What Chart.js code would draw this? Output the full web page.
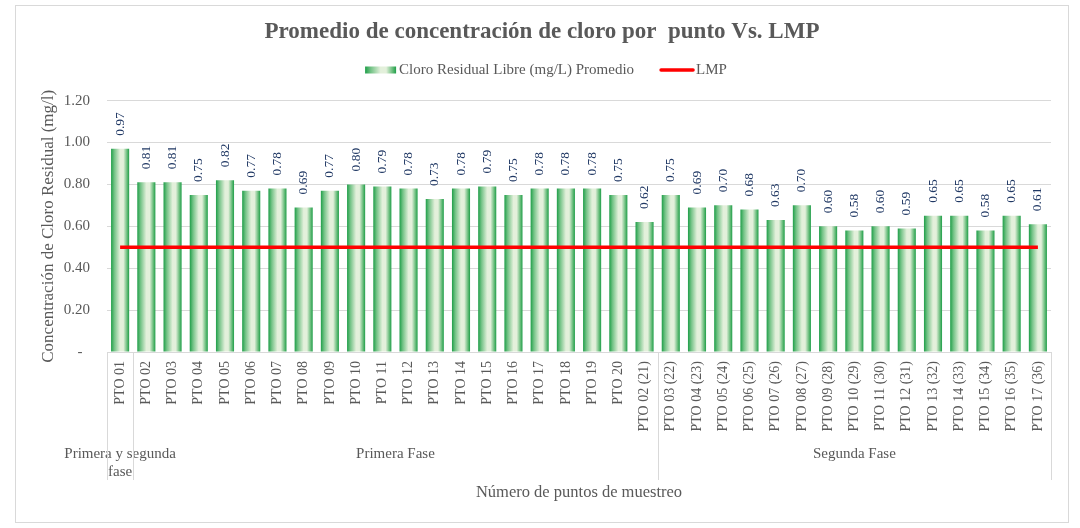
<!DOCTYPE html>
<html lang="es">
<head>
<meta charset="utf-8">
<title>Promedio de concentración de cloro por punto Vs. LMP</title>
<script src="https://cdn.jsdelivr.net/npm/chart.js@4.4.1/dist/chart.umd.min.js"></script>
<style>
    body { margin: 0; background: #fff; }
    #marco {
        position: absolute;
        left: 15px;
        top: 5px;
        width: 1052px;
        height: 516px;
        border: 1px solid #D9D9D9;
    }
    canvas { display: block; }
</style>
</head>
<body>
<div id="marco">
    <canvas id="cloroChart" width="1052" height="516"></canvas>
</div>
<script>
// Puntos de muestreo
const puntos = [
    "PTO 01",
    "PTO 02", "PTO 03", "PTO 04", "PTO 05", "PTO 06", "PTO 07", "PTO 08", "PTO 09", "PTO 10",
    "PTO 11", "PTO 12", "PTO 13", "PTO 14", "PTO 15", "PTO 16", "PTO 17", "PTO 18", "PTO 19", "PTO 20",
    "PTO 02 (21)", "PTO 03 (22)", "PTO 04 (23)", "PTO 05 (24)", "PTO 06 (25)", "PTO 07 (26)",
    "PTO 08 (27)", "PTO 09 (28)", "PTO 10 (29)", "PTO 11 (30)", "PTO 12 (31)", "PTO 13 (32)",
    "PTO 14 (33)", "PTO 15 (34)", "PTO 16 (35)", "PTO 17 (36)"
];

// Cloro residual libre promedio (mg/L)
const cloroPromedio = [
    0.97,
    0.81, 0.81, 0.75, 0.82, 0.77, 0.78, 0.69, 0.77, 0.80,
    0.79, 0.78, 0.73, 0.78, 0.79, 0.75, 0.78, 0.78, 0.78, 0.75,
    0.62, 0.75, 0.69, 0.70, 0.68, 0.63,
    0.70, 0.60, 0.58, 0.60, 0.59, 0.65,
    0.65, 0.58, 0.65, 0.61
];

// Limite maximo permisible
const lmp = [
    0.50,
    0.50, 0.50, 0.50, 0.50, 0.50, 0.50, 0.50, 0.50, 0.50,
    0.50, 0.50, 0.50, 0.50, 0.50, 0.50, 0.50, 0.50, 0.50, 0.50,
    0.50, 0.50, 0.50, 0.50, 0.50, 0.50,
    0.50, 0.50, 0.50, 0.50, 0.50, 0.50,
    0.50, 0.50, 0.50, 0.50
];

// Fases (lineas de texto) y cuantos puntos abarca cada una
const fases = [["Primera y segunda", "fase"], ["Primera Fase"], ["Segunda Fase"]];
const puntosPorFase = [1, 20, 15];

const serie1 = "Cloro Residual Libre (mg/L) Promedio";
const serie2 = "LMP";

const FONT = "'Liberation Serif', 'Times New Roman', serif";
const GRIS = "#595959";
const LINEA = "#D9D9D9";

function verdeDegradado(ctx, left, width) {
    const g = ctx.createLinearGradient(left, 0, left + width, 0);
    g.addColorStop(0, "#1E9E48");
    g.addColorStop(0.18, "#72C285");
    g.addColorStop(0.5, "#E3F0DB");
    g.addColorStop(0.68, "#E3F0DB");
    g.addColorStop(0.9, "#5DB873");
    g.addColorStop(1, "#1E9E48");
    return g;
}

// Relleno con degradado horizontal para cada barra
const barrasDegradado = {
    id: "barrasDegradado",
    beforeDatasetsDraw(chart) {
        const ctx = chart.ctx;
        chart.getDatasetMeta(0).data.forEach(bar => {
            bar.options.backgroundColor = verdeDegradado(ctx, bar.x - bar.width / 2, bar.width);
        });
    }
};

// Valores rotados encima de cada barra
const etiquetasValor = {
    id: "etiquetasValor",
    afterDatasetsDraw(chart) {
        const ctx = chart.ctx;
        const meta = chart.getDatasetMeta(0);
        ctx.save();
        ctx.font = `13.5px ${FONT}`;
        ctx.fillStyle = "#203864";
        ctx.textAlign = "left";
        ctx.textBaseline = "middle";
        meta.data.forEach((bar, i) => {
            ctx.save();
            ctx.translate(bar.x, bar.y - 13);
            ctx.rotate(-Math.PI / 2);
            ctx.fillText(cloroPromedio[i].toFixed(2), 0, 0);
            ctx.restore();
        });
        ctx.restore();
    }
};

// Separadores y nombres de las fases debajo del eje X
const etiquetasFase = {
    id: "etiquetasFase",
    afterDraw(chart) {
        const ctx = chart.ctx;
        const x = chart.scales.x;
        const paso = x.getPixelForValue(1) - x.getPixelForValue(0);
        const top = chart.chartArea.bottom;
        const bottom = 474;
        ctx.save();
        ctx.strokeStyle = LINEA;
        ctx.lineWidth = 1;
        ctx.font = `15px ${FONT}`;
        ctx.fillStyle = GRIS;
        ctx.textAlign = "center";
        ctx.textBaseline = "middle";
        let inicio = 0;
        const bordes = [x.getPixelForValue(0) - paso / 2];
        fases.forEach((lineas, k) => {
            const fin = inicio + puntosPorFase[k] - 1;
            const izq = x.getPixelForValue(inicio) - paso / 2;
            const der = x.getPixelForValue(fin) + paso / 2;
            bordes.push(der);
            lineas.forEach((t, j) => ctx.fillText(t, (izq + der) / 2, 448 + j * 18));
            inicio = fin + 1;
        });
        bordes.forEach(b => {
            const px = Math.round(b) + 0.5;
            ctx.beginPath();
            ctx.moveTo(px, top);
            ctx.lineTo(px, bottom);
            ctx.stroke();
        });
        ctx.restore();
    }
};

// Leyenda: muestra degradada para la serie de barras, trazo rojo para el LMP
const leyenda = {
    id: "leyenda",
    afterDraw(chart) {
        const ctx = chart.ctx;
        ctx.save();
        ctx.font = `15px ${FONT}`;
        const w1 = ctx.measureText(serie1).width;
        const w2 = ctx.measureText(serie2).width;
        const total = 31 + 3 + w1 + 26 + 34 + 2 + w2;
        let cx = chart.width / 2 - total / 2 + 4;
        const cy = 64;
        ctx.fillStyle = verdeDegradado(ctx, cx, 31);
        ctx.fillRect(cx, cy - 3.5, 31, 7);
        cx += 34;
        ctx.fillStyle = GRIS;
        ctx.textAlign = "left";
        ctx.textBaseline = "middle";
        ctx.fillText(serie1, cx, cy);
        cx += w1 + 26;
        ctx.strokeStyle = "#FF0000";
        ctx.lineWidth = 3.5;
        ctx.lineCap = "round";
        ctx.beginPath();
        ctx.moveTo(cx + 1, cy);
        ctx.lineTo(cx + 33, cy);
        ctx.stroke();
        cx += 36;
        ctx.fillText(serie2, cx, cy);
        ctx.restore();
    }
};

new Chart(document.getElementById("cloroChart"), {
    type: "bar",
    data: {
        labels: puntos,
        datasets: [
            {
                label: serie1,
                data: cloroPromedio,
                backgroundColor: () => "#70C07F",
                barPercentage: 0.69,
                categoryPercentage: 1,
                order: 2
            },
            {
                type: "line",
                label: serie2,
                data: lmp,
                borderColor: "#FF0000",
                borderWidth: 3.5,
                pointRadius: 0,
                fill: false,
                order: 1
            }
        ]
    },
    options: {
        responsive: false,
        animation: false,
        layout: { padding: { left: 17, right: 17, top: 0, bottom: 0 } },
        scales: {
            x: {
                grid: { display: false, drawTicks: false },
                border: { display: true, color: LINEA, width: 1 },
                ticks: {
                    color: GRIS,
                    font: { family: FONT, size: 14 },
                    minRotation: 90,
                    maxRotation: 90,
                    autoSkip: false,
                    padding: 9
                },
                title: {
                    display: true,
                    text: "Número de puntos de muestreo",
                    color: GRIS,
                    font: { family: FONT, size: 16.5 },
                    padding: { top: 0, bottom: 19 }
                },
                afterFit(scale) { scale.height = 170; }
            },
            y: {
                min: 0,
                max: 1.2,
                grid: { color: LINEA, drawTicks: false },
                border: { display: false },
                ticks: {
                    stepSize: 0.2,
                    color: GRIS,
                    font: { family: FONT, size: 15 },
                    padding: 17,
                    callback: v => (Math.abs(v) < 1e-9 ? "-  " : v.toFixed(2))
                },
                title: {
                    display: true,
                    text: "Concentración de Cloro Residual (mg/l)",
                    color: GRIS,
                    font: { family: FONT, size: 17 },
                    padding: { top: 5, bottom: 0 }
                },
                afterFit(scale) { scale.width = 74; }
            }
        },
        plugins: {
            legend: { display: false },
            tooltip: { enabled: false },
            title: {
                display: true,
                text: "Promedio de concentración de cloro por  punto Vs. LMP",
                color: GRIS,
                font: { family: FONT, size: 23, weight: "bold" },
                padding: { top: 12, bottom: 55 }
            }
        }
    },
    plugins: [barrasDegradado, etiquetasValor, etiquetasFase, leyenda]
});
</script>
</body>
</html>
